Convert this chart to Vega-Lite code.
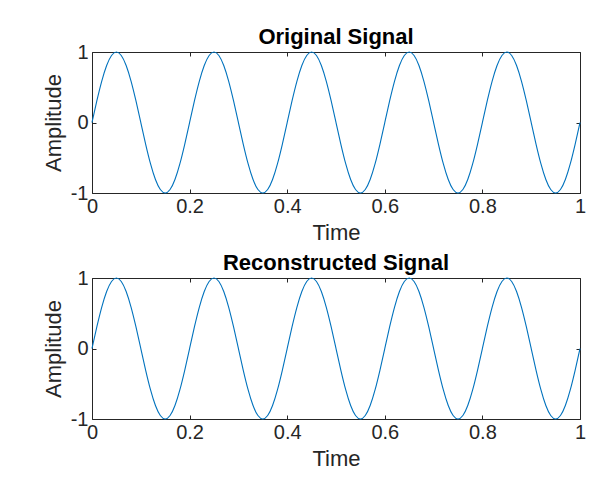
{
  "$schema": "https://vega.github.io/schema/vega-lite/v6.json",
  "background": "white",
  "autosize": "pad",
  "padding": {"left": 41, "top": 25, "right": 20, "bottom": 10},
  "spacing": 7,
  "config": {
    "font": "Liberation Sans",
    "view": {"stroke": "#262626", "strokeWidth": 1},
    "axis": {
      "domain": false,
      "grid": false,
      "ticks": true,
      "tickSize": -4,
      "tickColor": "#262626",
      "labelFont": "Liberation Sans",
      "labelFontSize": 20,
      "labelColor": "#262626",
      "labelExpr": "toString(datum.value)",
      "titleFont": "Liberation Sans",
      "titleFontSize": 22,
      "titleFontWeight": "normal",
      "titleColor": "#262626"
    },
    "title": {"font": "Liberation Sans", "fontSize": 22, "fontWeight": "bold", "color": "#000000", "offset": -7}
  },
  "datasets": {
    "sig": [
      {"t": 0.00, "y": 0}, {"t": 0.01, "y": 0.309}, {"t": 0.02, "y": 0.5878}, {"t": 0.03, "y": 0.809}, {"t": 0.04, "y": 0.9511},
      {"t": 0.05, "y": 1}, {"t": 0.06, "y": 0.9511}, {"t": 0.07, "y": 0.809}, {"t": 0.08, "y": 0.5878}, {"t": 0.09, "y": 0.309},
      {"t": 0.10, "y": 0}, {"t": 0.11, "y": -0.309}, {"t": 0.12, "y": -0.5878}, {"t": 0.13, "y": -0.809}, {"t": 0.14, "y": -0.9511},
      {"t": 0.15, "y": -1}, {"t": 0.16, "y": -0.9511}, {"t": 0.17, "y": -0.809}, {"t": 0.18, "y": -0.5878}, {"t": 0.19, "y": -0.309},
      {"t": 0.20, "y": 0}, {"t": 0.21, "y": 0.309}, {"t": 0.22, "y": 0.5878}, {"t": 0.23, "y": 0.809}, {"t": 0.24, "y": 0.9511},
      {"t": 0.25, "y": 1}, {"t": 0.26, "y": 0.9511}, {"t": 0.27, "y": 0.809}, {"t": 0.28, "y": 0.5878}, {"t": 0.29, "y": 0.309},
      {"t": 0.30, "y": 0}, {"t": 0.31, "y": -0.309}, {"t": 0.32, "y": -0.5878}, {"t": 0.33, "y": -0.809}, {"t": 0.34, "y": -0.9511},
      {"t": 0.35, "y": -1}, {"t": 0.36, "y": -0.9511}, {"t": 0.37, "y": -0.809}, {"t": 0.38, "y": -0.5878}, {"t": 0.39, "y": -0.309},
      {"t": 0.40, "y": 0}, {"t": 0.41, "y": 0.309}, {"t": 0.42, "y": 0.5878}, {"t": 0.43, "y": 0.809}, {"t": 0.44, "y": 0.9511},
      {"t": 0.45, "y": 1}, {"t": 0.46, "y": 0.9511}, {"t": 0.47, "y": 0.809}, {"t": 0.48, "y": 0.5878}, {"t": 0.49, "y": 0.309},
      {"t": 0.50, "y": 0}, {"t": 0.51, "y": -0.309}, {"t": 0.52, "y": -0.5878}, {"t": 0.53, "y": -0.809}, {"t": 0.54, "y": -0.9511},
      {"t": 0.55, "y": -1}, {"t": 0.56, "y": -0.9511}, {"t": 0.57, "y": -0.809}, {"t": 0.58, "y": -0.5878}, {"t": 0.59, "y": -0.309},
      {"t": 0.60, "y": 0}, {"t": 0.61, "y": 0.309}, {"t": 0.62, "y": 0.5878}, {"t": 0.63, "y": 0.809}, {"t": 0.64, "y": 0.9511},
      {"t": 0.65, "y": 1}, {"t": 0.66, "y": 0.9511}, {"t": 0.67, "y": 0.809}, {"t": 0.68, "y": 0.5878}, {"t": 0.69, "y": 0.309},
      {"t": 0.70, "y": 0}, {"t": 0.71, "y": -0.309}, {"t": 0.72, "y": -0.5878}, {"t": 0.73, "y": -0.809}, {"t": 0.74, "y": -0.9511},
      {"t": 0.75, "y": -1}, {"t": 0.76, "y": -0.9511}, {"t": 0.77, "y": -0.809}, {"t": 0.78, "y": -0.5878}, {"t": 0.79, "y": -0.309},
      {"t": 0.80, "y": 0}, {"t": 0.81, "y": 0.309}, {"t": 0.82, "y": 0.5878}, {"t": 0.83, "y": 0.809}, {"t": 0.84, "y": 0.9511},
      {"t": 0.85, "y": 1}, {"t": 0.86, "y": 0.9511}, {"t": 0.87, "y": 0.809}, {"t": 0.88, "y": 0.5878}, {"t": 0.89, "y": 0.309},
      {"t": 0.90, "y": 0}, {"t": 0.91, "y": -0.309}, {"t": 0.92, "y": -0.5878}, {"t": 0.93, "y": -0.809}, {"t": 0.94, "y": -0.9511},
      {"t": 0.95, "y": -1}, {"t": 0.96, "y": -0.9511}, {"t": 0.97, "y": -0.809}, {"t": 0.98, "y": -0.5878}, {"t": 0.99, "y": -0.309},
      {"t": 1.00, "y": 0}
    ]
  },
  "vconcat": [
    {
      "title": "Original Signal",
      "width": 488,
      "height": 141,
      "data": {"name": "sig"},
      "layer": [
        {
          "mark": {"type": "line", "color": "#0072BD", "strokeWidth": 1.1, "interpolate": "natural"},
          "encoding": {
            "x": {"field": "t", "type": "quantitative", "scale": {"domain": [0, 1], "nice": false}, "axis": {"title": "Time", "values": [0, 0.2, 0.4, 0.6, 0.8, 1], "labelPadding": 7, "titlePadding": 6, "labelFlush": false}},
            "y": {"field": "y", "type": "quantitative", "scale": {"domain": [-1, 1], "nice": false, "zero": false}, "axis": {"title": "Amplitude", "values": [-1, 0, 1], "labelPadding": 8, "titlePadding": 5, "labelFlush": false}}
          }
        },
        {
          "mark": {"type": "line", "opacity": 0},
          "encoding": {
            "x": {"field": "t", "type": "quantitative", "axis": {"orient": "top", "title": null, "labels": false, "values": [0, 0.2, 0.4, 0.6, 0.8, 1]}},
            "y": {"field": "y", "type": "quantitative", "axis": {"orient": "right", "title": null, "labels": false, "values": [-1, 0, 1]}}
          }
        }
      ],
      "resolve": {"axis": {"x": "independent", "y": "independent"}}
    },
    {
      "title": "Reconstructed Signal",
      "width": 488,
      "height": 141,
      "data": {"name": "sig"},
      "layer": [
        {
          "mark": {"type": "line", "color": "#0072BD", "strokeWidth": 1.1, "interpolate": "natural"},
          "encoding": {
            "x": {"field": "t", "type": "quantitative", "scale": {"domain": [0, 1], "nice": false}, "axis": {"title": "Time", "values": [0, 0.2, 0.4, 0.6, 0.8, 1], "labelPadding": 7, "titlePadding": 6, "labelFlush": false}},
            "y": {"field": "y", "type": "quantitative", "scale": {"domain": [-1, 1], "nice": false, "zero": false}, "axis": {"title": "Amplitude", "values": [-1, 0, 1], "labelPadding": 8, "titlePadding": 5, "labelFlush": false}}
          }
        },
        {
          "mark": {"type": "line", "opacity": 0},
          "encoding": {
            "x": {"field": "t", "type": "quantitative", "axis": {"orient": "top", "title": null, "labels": false, "values": [0, 0.2, 0.4, 0.6, 0.8, 1]}},
            "y": {"field": "y", "type": "quantitative", "axis": {"orient": "right", "title": null, "labels": false, "values": [-1, 0, 1]}}
          }
        }
      ],
      "resolve": {"axis": {"x": "independent", "y": "independent"}}
    }
  ]
}
